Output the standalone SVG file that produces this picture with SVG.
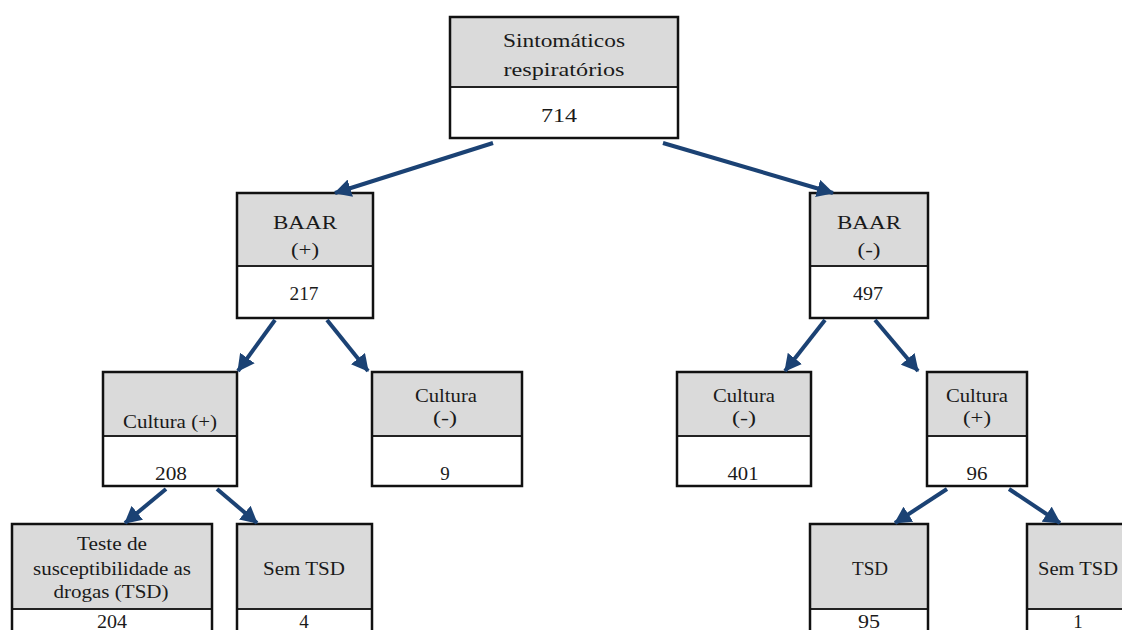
<svg xmlns="http://www.w3.org/2000/svg" width="1122" height="630" viewBox="0 0 1122 630">
<defs>
<marker id="ah" markerUnits="userSpaceOnUse" markerWidth="18" markerHeight="18" refX="16" refY="9" orient="auto">
<path d="M0,0 L17,9 L0,18 Z" fill="#1b4274"/>
</marker>
<style>
.hd{fill:#dadada;stroke:none}
.bd{fill:#ffffff;stroke:none}
.fr{fill:none;stroke:#111;stroke-width:2.5}
.dv{stroke:#222;stroke-width:2}
text{font-family:"Liberation Serif","Times New Roman",serif;font-size:19px;fill:#1a1a1a;text-anchor:middle}
.cn line{stroke:#1b4274;stroke-width:4;marker-end:url(#ah)}
</style>
</defs>
<rect width="1122" height="630" fill="#ffffff"/>

<g id="n-sintomaticos">
<rect class="hd" x="450" y="17" width="228" height="70"/>
<rect class="bd" x="450" y="87" width="228" height="51"/>
<line class="dv" x1="450" y1="87" x2="678" y2="87"/>
<rect class="fr" x="450" y="17" width="228" height="121"/>
<text x="564" y="47" textLength="122" lengthAdjust="spacingAndGlyphs">Sintomáticos</text>
<text x="564" y="76" textLength="121" lengthAdjust="spacingAndGlyphs">respiratórios</text>
<text x="559" y="122" textLength="36" lengthAdjust="spacingAndGlyphs">714</text>
</g>

<g id="n-baar-pos">
<rect class="hd" x="237" y="193" width="136" height="73"/>
<rect class="bd" x="237" y="266" width="136" height="52"/>
<line class="dv" x1="237" y1="266" x2="373" y2="266"/>
<rect class="fr" x="237" y="193" width="136" height="125"/>
<text x="305" y="229" textLength="64" lengthAdjust="spacingAndGlyphs">BAAR</text>
<text x="305" y="256" textLength="28" lengthAdjust="spacingAndGlyphs">(+)</text>
<text x="304" y="300" textLength="29" lengthAdjust="spacingAndGlyphs">217</text>
</g>

<g id="n-baar-neg">
<rect class="hd" x="810" y="193" width="118" height="73"/>
<rect class="bd" x="810" y="266" width="118" height="52"/>
<line class="dv" x1="810" y1="266" x2="928" y2="266"/>
<rect class="fr" x="810" y="193" width="118" height="125"/>
<text x="869" y="229" textLength="64" lengthAdjust="spacingAndGlyphs">BAAR</text>
<text x="869" y="256" textLength="23" lengthAdjust="spacingAndGlyphs">(-)</text>
<text x="868" y="300" textLength="30" lengthAdjust="spacingAndGlyphs">497</text>
</g>

<g id="n-cultura-pos-l">
<rect class="hd" x="103" y="372" width="134" height="64"/>
<rect class="bd" x="103" y="436" width="134" height="50"/>
<line class="dv" x1="103" y1="436" x2="237" y2="436"/>
<rect class="fr" x="103" y="372" width="134" height="114"/>
<text x="170" y="428" textLength="94" lengthAdjust="spacingAndGlyphs">Cultura (+)</text>
<text x="171" y="480" textLength="32" lengthAdjust="spacingAndGlyphs">208</text>
</g>

<g id="n-cultura-neg-l">
<rect class="hd" x="372" y="372" width="150" height="64"/>
<rect class="bd" x="372" y="436" width="150" height="50"/>
<line class="dv" x1="372" y1="436" x2="522" y2="436"/>
<rect class="fr" x="372" y="372" width="150" height="114"/>
<text x="446" y="402" textLength="62" lengthAdjust="spacingAndGlyphs">Cultura</text>
<text x="445" y="424" textLength="24" lengthAdjust="spacingAndGlyphs">(-)</text>
<text x="445" y="480">9</text>
</g>

<g id="n-cultura-neg-r">
<rect class="hd" x="677" y="372" width="134" height="64"/>
<rect class="bd" x="677" y="436" width="134" height="50"/>
<line class="dv" x1="677" y1="436" x2="811" y2="436"/>
<rect class="fr" x="677" y="372" width="134" height="114"/>
<text x="744" y="402" textLength="62" lengthAdjust="spacingAndGlyphs">Cultura</text>
<text x="744" y="424" textLength="24" lengthAdjust="spacingAndGlyphs">(-)</text>
<text x="743" y="480" textLength="31" lengthAdjust="spacingAndGlyphs">401</text>
</g>

<g id="n-cultura-pos-r">
<rect class="hd" x="927" y="372" width="100" height="64"/>
<rect class="bd" x="927" y="436" width="100" height="50"/>
<line class="dv" x1="927" y1="436" x2="1027" y2="436"/>
<rect class="fr" x="927" y="372" width="100" height="114"/>
<text x="977" y="402" textLength="62" lengthAdjust="spacingAndGlyphs">Cultura</text>
<text x="977" y="424" textLength="28" lengthAdjust="spacingAndGlyphs">(+)</text>
<text x="977" y="480" textLength="21" lengthAdjust="spacingAndGlyphs">96</text>
</g>

<g id="n-tsd-l">
<rect class="hd" x="12" y="524" width="200" height="85"/>
<rect class="bd" x="12" y="609" width="200" height="31"/>
<line class="dv" x1="12" y1="609" x2="212" y2="609"/>
<rect class="fr" x="12" y="524" width="200" height="116"/>
<text x="112" y="550" textLength="70" lengthAdjust="spacingAndGlyphs">Teste de</text>
<text x="112" y="575" textLength="158" lengthAdjust="spacingAndGlyphs">susceptibilidade as</text>
<text x="111" y="598" textLength="115" lengthAdjust="spacingAndGlyphs">drogas (TSD)</text>
<text x="112" y="628" textLength="30" lengthAdjust="spacingAndGlyphs">204</text>
</g>

<g id="n-semtsd-l">
<rect class="hd" x="237" y="524" width="135" height="85"/>
<rect class="bd" x="237" y="609" width="135" height="31"/>
<line class="dv" x1="237" y1="609" x2="372" y2="609"/>
<rect class="fr" x="237" y="524" width="135" height="116"/>
<text x="304" y="575" textLength="82" lengthAdjust="spacingAndGlyphs">Sem TSD</text>
<text x="304" y="628">4</text>
</g>

<g id="n-tsd-r">
<rect class="hd" x="810" y="524" width="118" height="85"/>
<rect class="bd" x="810" y="609" width="118" height="31"/>
<line class="dv" x1="810" y1="609" x2="928" y2="609"/>
<rect class="fr" x="810" y="524" width="118" height="116"/>
<text x="870" y="575" textLength="36" lengthAdjust="spacingAndGlyphs">TSD</text>
<text x="869" y="628" textLength="22" lengthAdjust="spacingAndGlyphs">95</text>
</g>

<g id="n-semtsd-r">
<rect class="hd" x="1027" y="524" width="110" height="85"/>
<rect class="bd" x="1027" y="609" width="110" height="31"/>
<line class="dv" x1="1027" y1="609" x2="1137" y2="609"/>
<rect class="fr" x="1027" y="524" width="110" height="116"/>
<text x="1078" y="575" textLength="80" lengthAdjust="spacingAndGlyphs">Sem TSD</text>
<text x="1078" y="628">1</text>
</g>

<g id="connectors" class="cn">
<line x1="493" y1="143" x2="335" y2="193"/>
<line x1="663" y1="143" x2="833" y2="193"/>
<line x1="275" y1="320" x2="238" y2="371"/>
<line x1="327" y1="320" x2="368" y2="371"/>
<line x1="825" y1="320" x2="785" y2="371"/>
<line x1="875" y1="320" x2="918" y2="371"/>
<line x1="166" y1="489" x2="125" y2="523"/>
<line x1="217" y1="489" x2="257" y2="523"/>
<line x1="947" y1="489" x2="895" y2="523"/>
<line x1="1009" y1="489" x2="1060" y2="523"/>
</g>
</svg>
